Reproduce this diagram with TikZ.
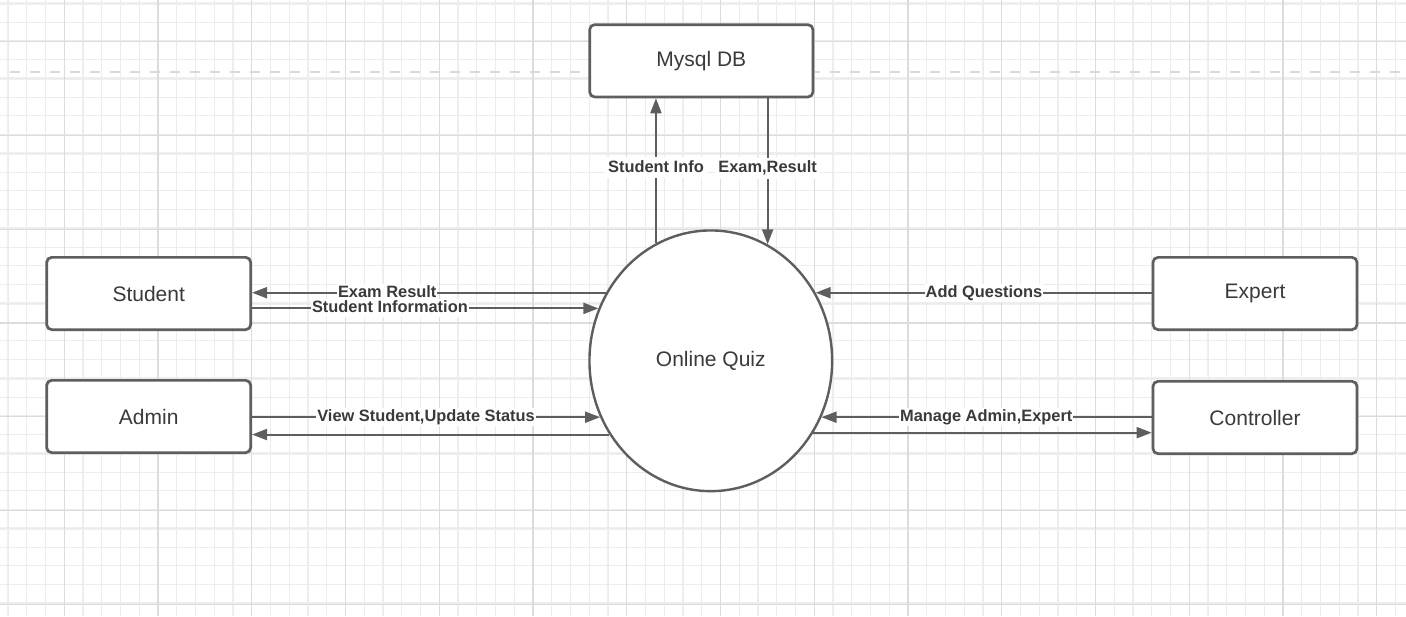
\documentclass[tikz,border=0pt]{standalone}
\usepackage{fontspec}
\setmainfont{Liberation Sans}
\usetikzlibrary{shapes.geometric,arrows.meta}
\definecolor{edgec}{HTML}{5E5E5E}
\definecolor{txtc}{HTML}{3A3A3A}
\definecolor{gridminor}{HTML}{ECECEC}
\definecolor{gridmajor}{HTML}{DCDCDC}
\definecolor{gridthick}{HTML}{EFEFEF}
\definecolor{dashc}{HTML}{D9D9D9}
\tikzset{
  box/.style={draw=edgec, line width=2.7pt, rounded corners=5pt, fill=white,
    minimum width=204pt, minimum height=72.3pt, text=txtc,
    font=\fontsize{21}{25}\selectfont, inner sep=0pt},
  proc/.style={ellipse, draw=edgec, line width=2.4pt, fill=white,
    minimum width=242.7pt, minimum height=260.7pt, text=txtc,
    font=\fontsize{21}{25}\selectfont, inner sep=0pt},
  conn/.style={draw=edgec, line width=2pt, -{Triangle[length=15pt,width=11pt]}},
  lbl/.style={fill=white, text=txtc, font=\bfseries\fontsize{16.4}{19}\selectfont,
    inner xsep=1pt, inner ysep=1pt, text height=12.4pt, text depth=3.4pt},
  vlbl/.style={lbl, inner ysep=2.5pt, inner xsep=3pt},
}
\begin{document}
\begin{tikzpicture}[x=1pt,y=-1pt]
\useasboundingbox (0,0) rectangle (1406,616);
\fill[white] (0,0) rectangle (1406,616);
% background grid
\foreach \k in {0,...,18} {
  \draw[gridthick, line width=2.5pt] ({8+75*\k},0) -- ({8+75*\k},616);
}
\foreach \k in {0,...,8} {
  \draw[gridthick, line width=2.5pt] (0,{3.3+75*\k}) -- (1406,{3.3+75*\k});
}
\foreach \k in {0,...,74} {
  \draw[gridminor, line width=1pt] ({8+18.75*\k},0) -- ({8+18.75*\k},616);
}
\foreach \k in {0,...,32} {
  \draw[gridminor, line width=1pt] (0,{3.3+18.75*\k}) -- (1406,{3.3+18.75*\k});
}
\foreach \k in {0,...,14} {
  \draw[gridmajor, line width=1.2pt] ({64.3+93.75*\k},0) -- ({64.3+93.75*\k},616);
}
\foreach \k in {0,...,6} {
  \draw[gridmajor, line width=1.2pt] (0,{41.7+93.75*\k}) -- (1406,{41.7+93.75*\k});
}
\draw[dashc, line width=2.5pt, dash pattern=on 10pt off 10pt, dash phase=10pt] (0,72) -- (1406,72);

% nodes
\node[box, minimum width=223.3pt] (M) at (701.3,60.8) {Mysql DB};
\node[box] (S) at (148.7,293.5) {Student};
\node[box] (A) at (148.7,416.5) {Admin};
\node[box] (E) at (1255,293.5) {Expert};
\node[box] (C) at (1255,417.5) {Controller};
\node[proc] (Q) at (710.8,360.8) {Online Quiz};

% connectors
\draw[conn] (Q.115.2) -- node[vlbl, pos=0.52] (l1) {Student Info} (Q.115.2 |- M.south);
\draw[conn] (Q.64.8 |- M.south) -- node[vlbl, pos=0.48] (l2) {Exam,Result} (Q.64.8);
\draw[conn] (Q.147) -- node[lbl, pos=0.618] (l3) {Exam Result} (Q.147 -| S.east);
\draw[conn] (Q.155.2 -| S.east) -- node[lbl, pos=0.398] (l4) {Student Information} (Q.155.2);
\draw[conn] (Q.207 -| A.east) -- node[lbl, pos=0.5] (l5) {View Student,Update Status} (Q.207);
\draw[conn] (Q.216.6) -- (Q.216.6 -| A.east);
\draw[conn] (Q.33 -| E.west) -- node[lbl, pos=0.499] (l6) {Add Questions} (Q.33);
\draw[conn] (Q.333.4 -| C.west) -- node[lbl, pos=0.501] (l7) {Manage Admin,Expert} (Q.333.4);
\draw[conn] (Q.325.7) -- (Q.325.7 -| C.west);
\end{tikzpicture}
\end{document}
